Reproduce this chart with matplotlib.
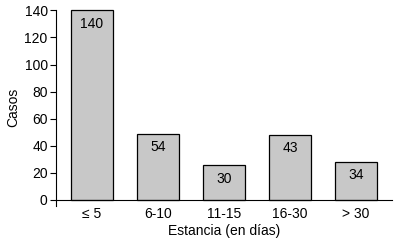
import matplotlib
matplotlib.use("Agg")
import matplotlib.pyplot as plt
import numpy as np

categories = ["\u2264 5", "6-10", "11-15", "16-30", "> 30"]
bar_heights = [140, 48.5, 25.5, 48, 28]
bar_labels = ["140", "54", "30", "43", "34"]

plt.rcParams["font.family"] = ["Liberation Sans", "DejaVu Sans"]
plt.rcParams["font.size"] = 10

fig = plt.figure(figsize=(3.95, 2.41), dpi=100)
ax = fig.add_axes([56 / 395, 1 - 206 / 241, 336 / 395, 197 / 241])

x = np.arange(len(categories))
bars = ax.bar(x, bar_heights, width=0.64, color="#c8c8c8", edgecolor="black", linewidth=0.9)

for rect, lab in zip(bars, bar_labels):
    ax.annotate(lab, (rect.get_x() + rect.get_width() / 2, rect.get_height()),
                xytext=(0, -4.5), textcoords="offset points",
                ha="center", va="top", fontsize=10)

ax.set_xlim(-0.545, 4.545)
ax.set_ylim(-4.5, 141)
ax.spines["top"].set_visible(False)
ax.spines["right"].set_visible(False)
ax.spines["bottom"].set_position(("data", 0))
ax.spines["left"].set_bounds(-4.5, 140)
ax.set_yticks(range(0, 141, 20))
ax.set_xticks(x)
ax.set_xticklabels(categories)
ax.tick_params(axis="x", length=0, pad=5)
ax.tick_params(axis="y", length=4, width=0.8, pad=2)
ax.set_ylabel("Casos", fontsize=10, labelpad=3)
ax.set_xlabel("Estancia (en d\u00edas)", fontsize=10, labelpad=2)

fig.savefig("out.png", dpi=100)
